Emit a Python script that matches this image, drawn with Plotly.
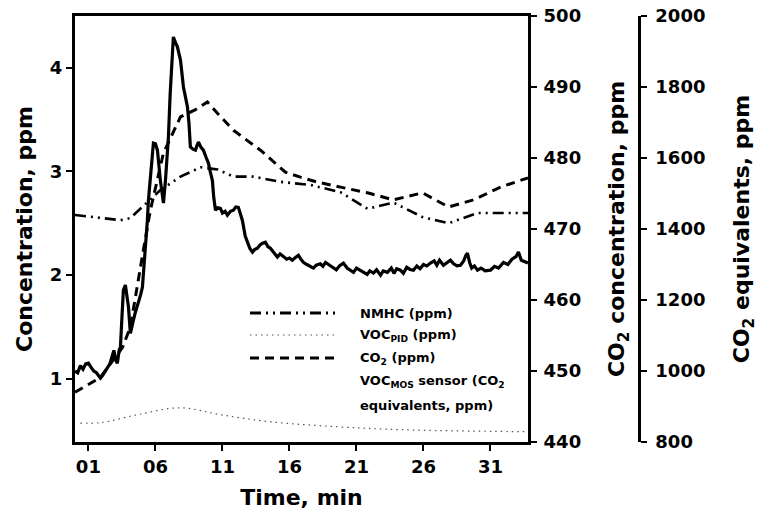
import plotly.graph_objects as go

# ---- data ----
mos_t = [0.0, 0.2, 0.4, 0.6, 0.8, 1.0, 1.2, 1.4, 1.6, 1.8, 1.9, 2.1, 2.4, 2.6, 2.8, 2.9, 3.05, 3.16, 3.3, 3.39,
         3.5, 3.61, 3.76, 3.9, 3.99, 4.13, 4.25, 4.36, 4.5, 4.73, 4.9, 5.03, 5.15, 5.25, 5.4, 5.48, 5.85, 6.0,
         6.15, 6.37, 6.6, 6.75, 6.97, 7.1, 7.34, 7.5, 7.64, 7.87, 8.09, 8.25, 8.39, 8.5, 8.61, 8.8, 8.99, 9.1,
         9.21, 9.4, 9.58, 9.8, 9.96, 10.1, 10.25, 10.35, 10.48, 10.65, 10.85, 11.0, 11.2, 11.37, 11.6, 11.82,
         12.0, 12.19, 12.35, 12.49, 12.7, 12.87, 13.05, 13.24, 13.4, 13.61, 13.8, 14.0, 14.21, 14.4, 14.58,
         14.8, 15.1, 15.3, 15.55, 15.8, 16.0, 16.22, 16.45, 16.67, 16.85, 17.04, 17.3, 17.55, 17.79, 18.0,
         18.3, 18.5, 18.69, 19.0, 19.28, 19.5, 19.75, 20.03, 20.3, 20.55, 20.78, 21.0, 21.3, 21.52, 21.8,
         22.0, 22.27, 22.5, 22.8, 23.0, 23.31, 23.6, 23.8, 24.0, 24.28, 24.5, 24.75, 25.0, 25.25, 25.5,
         25.75, 26.0, 26.25, 26.52, 26.8, 27.0, 27.2, 27.49, 27.75, 28.01, 28.25, 28.5, 28.76, 29.0, 29.15,
         29.28, 29.45, 29.6, 29.8, 30.03, 30.3, 30.6, 31.0, 31.3, 31.6, 31.97, 32.3, 32.6, 32.9, 33.09,
         33.3, 33.61, 33.8]
mos_eq = [1000, 995, 1015, 1005, 1020, 1022, 1010, 1000, 995, 985, 980, 990, 1010, 1020, 1045, 1058, 1030,
          1022, 1060, 1067, 1150, 1228, 1242, 1210, 1180, 1106, 1130, 1143, 1165, 1191, 1215, 1236, 1290,
          1340, 1424, 1481, 1642, 1640, 1622, 1537, 1473, 1537, 1659, 1780, 1941, 1925, 1913, 1876, 1800,
          1770, 1744, 1700, 1631, 1625, 1622, 1635, 1645, 1630, 1622, 1600, 1585, 1560, 1537, 1490, 1453,
          1460, 1458, 1445, 1450, 1439, 1450, 1453, 1462, 1461, 1440, 1424, 1380, 1360, 1345, 1335, 1342,
          1346, 1355, 1360, 1363, 1350, 1346, 1335, 1321, 1330, 1321, 1315, 1318, 1312, 1320, 1326, 1315,
          1306, 1300, 1296, 1290, 1298, 1302, 1295, 1306, 1298, 1290, 1285, 1297, 1304, 1290, 1284, 1278,
          1290, 1284, 1278, 1272, 1282, 1276, 1285, 1270, 1282, 1278, 1290, 1275, 1288, 1284, 1275, 1292,
          1286, 1284, 1296, 1288, 1300, 1296, 1304, 1310, 1298, 1312, 1298, 1306, 1312, 1302, 1296, 1298,
          1310, 1325, 1332, 1305, 1290, 1296, 1284, 1290, 1282, 1284, 1295, 1290, 1306, 1300, 1315, 1322,
          1335, 1312, 1306, 1304]

co2_t = [0.0, 1.9, 3.54, 4.13, 5.1, 5.63, 6.6, 7.87, 8.99, 9.88, 10.63, 11.82, 13.84, 15.7, 16.82, 18.09,
         19.81, 21.82, 23.76, 25.93, 27.87, 29.73, 31.75, 33.8]
co2_ppm = [447.0, 449.1, 453.3, 456.2, 467.0, 472.7, 480.7, 485.8, 486.8, 487.9, 486.3, 483.9, 481.1, 478.0,
           477.3, 476.6, 475.9, 475.1, 474.1, 475.1, 473.1, 474.1, 475.9, 477.2]

nmhc_t = [0.0, 3.39, 4.13, 6.37, 7.87, 9.36, 10.63, 11.82, 13.31, 15.33, 17.57, 19.81, 21.82, 23.76, 25.93,
          27.87, 30.03, 33.8]
nmhc_ppm = [2.58, 2.53, 2.55, 2.82, 2.95, 3.04, 3.02, 2.95, 2.95, 2.90, 2.87, 2.80, 2.64, 2.70, 2.56, 2.50,
            2.60, 2.60]

pid_t = [0.4, 1.9, 4.66, 7.87, 10.85, 14.58, 19.58, 24.5, 33.8]
pid_ppm = [0.573, 0.576, 0.653, 0.72, 0.653, 0.585, 0.537, 0.508, 0.489]

x_tickvals = [1, 6, 11, 16, 21, 26, 31]
x_ticktext = ["01", "06", "11", "16", "21", "26", "31"]

legend_labels = ["NMHC (ppm)", "VOC<sub>PID</sub> (ppm)", "CO<sub>2</sub> (ppm)",
                 "VOC<sub>MOS</sub> sensor (CO<sub>2</sub>", "equivalents, ppm)"]

# ---- figure ----
fig = go.Figure()
NMHC_DASH = "11px,5px,2px,5px,2px,5px"
CO2_DASH = "9px,6px"
PID_DASH = "1.5px,4px"

fig.add_trace(go.Scatter(x=nmhc_t, y=nmhc_ppm, mode="lines", yaxis="y",
                         line=dict(color="black", width=2.6, dash=NMHC_DASH), showlegend=False))
fig.add_trace(go.Scatter(x=pid_t, y=pid_ppm, mode="lines", yaxis="y", line_shape="spline",
                         line=dict(color="#555", width=1.2, dash=PID_DASH), showlegend=False))
fig.add_trace(go.Scatter(x=co2_t, y=co2_ppm, mode="lines", yaxis="y2",
                         line=dict(color="black", width=3, dash=CO2_DASH), showlegend=False))
fig.add_trace(go.Scatter(x=mos_t, y=mos_eq, mode="lines", yaxis="y3",
                         line=dict(color="black", width=3.2), showlegend=False))

PW = 564.0  # paper width in px
PH = 426.0  # paper height in px
XD = 453.0 / PW

def px_x(px):
    return (px - 75) / PW

def px_y(py):
    return (442 - py) / PH

axis_common = dict(showgrid=False, zeroline=False, showline=True, linecolor="black",
                   ticks="outside", tickcolor="black", tickwidth=2, ticklen=6, automargin=False)

fig.update_layout(
    width=758, height=510,
    margin=dict(l=75, r=119, t=16, b=68),
    paper_bgcolor="white", plot_bgcolor="white",
    font=dict(family="DejaVu Sans", size=18, color="black", weight="bold"),
    xaxis=dict(domain=[0, XD], range=[0, 33.8], tickvals=x_tickvals, ticktext=x_ticktext,
               linewidth=3, mirror=True,
               title=dict(text="Time, min", standoff=15), **axis_common),
    yaxis=dict(range=[0.39, 4.5], tickvals=[1, 2, 3, 4], linewidth=3,
               title=dict(text="Concentration, ppm", standoff=12), **axis_common),
    yaxis2=dict(range=[440, 500], dtick=10, overlaying="y", side="right", anchor="x", linewidth=3,
                ticklabelstandoff=3,
                title=dict(text="CO<sub>2</sub> concentration, ppm", standoff=29), **axis_common),
    yaxis3=dict(range=[800, 2000], dtick=200, overlaying="y", side="right", anchor="free",
                position=1.0, linewidth=2.5, ticklabelstandoff=5,
                title=dict(text="CO<sub>2</sub> equivalents, ppm", standoff=31), **axis_common),
)

# legend drawn inside plot
leg_y = [313, 335, 358, 381, 405]
dashes = [(NMHC_DASH, 3, "black"), (PID_DASH, 1.2, "#555"), (CO2_DASH, 3, "black")]
for i, (d, w, c) in enumerate(dashes):
    fig.add_shape(type="line", xref="paper", yref="paper",
                  x0=px_x(250), x1=px_x(337), y0=px_y(leg_y[i]), y1=px_y(leg_y[i]),
                  line=dict(color=c, width=w, dash=d))
for i, lab in enumerate(legend_labels):
    fig.add_annotation(xref="paper", yref="paper", x=px_x(358), y=px_y(leg_y[i]),
                       text=lab, showarrow=False, xanchor="left", yanchor="middle",
                       font=dict(size=13, family="DejaVu Sans", color="black", weight="bold"))

fig.write_html("out.html")
